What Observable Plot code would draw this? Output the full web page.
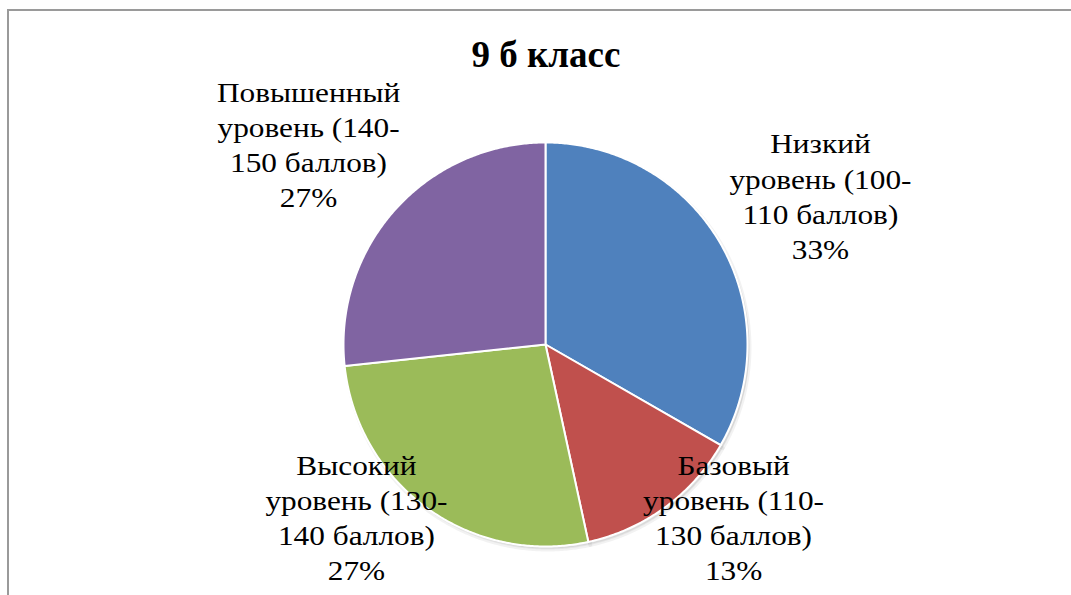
<!DOCTYPE html>
<html><head><meta charset="utf-8">
<script src="https://cdn.jsdelivr.net/npm/d3@7"></script>
<script src="https://cdn.jsdelivr.net/npm/@observablehq/plot@0.6"></script>
<style>
body{margin:0;background:#fff;overflow:hidden;}
#frame{position:absolute;left:7px;top:9px;width:1064px;height:586px;border-top:2px solid #9a9a9a;border-left:2px solid #9a9a9a;}
#chart{position:absolute;left:0;top:0;}
</style></head><body>
<div id="frame"></div><div id="chart"></div>
<script>
// ---- data ----
const title = "9 б класс";
const categories = ["Низкий", "Базовый", "Высокий", "Повышенный"];
const rangeFrom = [100, 110, 130, 140];
const rangeTo = [110, 130, 140, 150];
const shares = [33.3, 13.3, 26.7, 26.7];
const colors = ["#4F81BD", "#C0504D", "#9BBB59", "#8064A2"];

// ---- layout (label anchors in pie-radius units, relative to pie centre) ----
const labelAnchors = [[1.361, 0.741], [0.931, -0.851], [-0.936, -0.851], [-1.173, 0.996]];

const total = d3.sum(shares);
const slicePts = [];
let cum = 0;
categories.forEach((c, i) => {
  const a0 = cum / total * 2 * Math.PI;
  cum += shares[i];
  const a1 = cum / total * 2 * Math.PI;
  slicePts.push({cat: c, x: 0, y: 0});
  const n = Math.max(2, Math.ceil((a1 - a0) / (Math.PI / 360)));
  for (let k = 0; k <= n; k++) {
    const a = a0 + (a1 - a0) * k / n;
    slicePts.push({cat: c, x: Math.sin(a), y: Math.cos(a)});
  }
  slicePts.push({cat: c, x: 0, y: 0});
});

const labels = categories.map((c, i) => ({
  cat: c,
  x: labelAnchors[i][0],
  y: labelAnchors[i][1],
  text: `${c}\nуровень (${rangeFrom[i]}-\n${rangeTo[i]} баллов)\n${Math.round(shares[i])}%`
}));

const plot = Plot.plot({
  width: 1071,
  height: 595,
  margin: 0,
  style: {fontFamily: "'Liberation Serif', 'Times New Roman', serif", background: "transparent", color: "#000"},
  x: {domain: [-1, 1], range: [343, 747], axis: null},
  y: {domain: [-1, 1], range: [546, 142], axis: null},
  marks: [
    // soft shadow
    Plot.line(slicePts, {x: "x", y: "y", z: "cat", fill: "#000", fillOpacity: 0.05, stroke: "#000", strokeOpacity: 0.05, strokeWidth: 4, dx: 2, dy: 3, curve: "linear"}),
    Plot.line(slicePts, {x: "x", y: "y", z: "cat", fill: "#000", fillOpacity: 0.06, dx: 2, dy: 2, curve: "linear"}),
    ...categories.map((c, i) =>
      Plot.line(slicePts.filter(d => d.cat === c), {x: "x", y: "y", fill: colors[i], stroke: "white", strokeWidth: 2, strokeLinejoin: "round", curve: "linear"})
    ),
    Plot.text(labels, {x: "x", y: "y", text: "text", fontSize: 27, lineHeight: 1.3, textAnchor: "middle", lineAnchor: "middle", fill: "#000"}),
    Plot.text([title], {text: d => d, frameAnchor: "top", lineAnchor: "top", dx: 10, dy: 40.5, fontSize: 37, fontWeight: "bold", fill: "#000"})
  ]
});
document.getElementById("chart").appendChild(plot);
const textGroups = plot.querySelectorAll('g[aria-label="text"]');
if (textGroups.length) {
  textGroups[0].querySelectorAll("text").forEach(t => {
    const tr = t.getAttribute("transform") || "";
    t.setAttribute("transform", tr + " scale(1.16,1)");
  });
}
</script>
</body></html>
